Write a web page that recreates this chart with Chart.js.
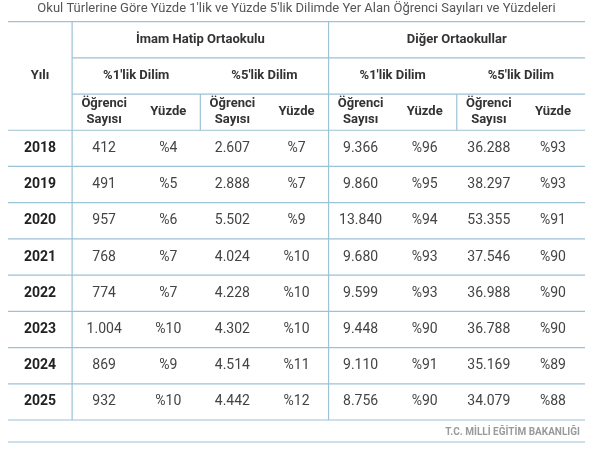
<!DOCTYPE html>
<html>
<head>
<meta charset="utf-8">
<script src="https://cdn.jsdelivr.net/npm/chart.js@4"></script>
<style>
  body { margin: 0; background: #fff; }
  #wrap { width: 607px; height: 454px; position: relative; }
</style>
</head>
<body>
<div id="wrap"><canvas id="tableChart"></canvas></div>
<script>
const title = 'Okul Türlerine Göre Yüzde 1\'lik ve Yüzde 5\'lik Dilimde Yer Alan Öğrenci Sayıları ve Yüzdeleri';
const source = 'T.C. MİLLİ EĞİTİM BAKANLIĞI';
const groups = ['İmam Hatip Ortaokulu', 'Diğer Ortaokullar'];
const slices = ['%1\'lik Dilim', '%5\'lik Dilim'];
const years = ['2018', '2019', '2020', '2021', '2022', '2023', '2024', '2025'];
const ihoCount1 = [412, 491, 957, 768, 774, 1004, 869, 932];
const ihoPct1 = [4, 5, 6, 7, 7, 10, 9, 10];
const ihoCount5 = [2607, 2888, 5502, 4024, 4228, 4302, 4514, 4442];
const ihoPct5 = [7, 7, 9, 10, 10, 10, 11, 12];
const digCount1 = [9366, 9860, 13840, 9680, 9599, 9448, 9110, 8756];
const digPct1 = [96, 95, 94, 93, 93, 90, 91, 90];
const digCount5 = [36288, 38297, 53355, 37546, 36988, 36788, 35169, 34079];
const digPct5 = [93, 93, 91, 90, 90, 90, 89, 88];

const cols = ['yil', 'c1', 'c2', 'c3', 'c4', 'c5', 'c6', 'c7', 'c8'];
const rows = ['h1', 'h2', 'h3', ...years];
const lineColor = '#9cc2d6';
const textColor = '#333';

const fmtNum = n => String(n).replace(/\B(?=(\d{3})+(?!\d))/g, '.');
const fmtPct = n => '%' + n;

// one point per data cell, text drawn at the point position
const cells = [];
years.forEach((y, i) => {
    const vals = [ihoCount1[i], ihoPct1[i], ihoCount5[i], ihoPct5[i], digCount1[i], digPct1[i], digCount5[i], digPct5[i]];
    cells.push({x: 'yil', y: y, text: y, bold: true});
    vals.forEach((v, j) => cells.push({x: cols[j + 1], y: y, text: j % 2 ? fmtPct(v) : fmtNum(v)}));
});

const tablePlugin = {
    id: 'tablePlugin',
    afterDatasetsDraw(chart) {
        const {ctx, scales: {x, y}, chartArea: a} = chart;
        const colW = x.getPixelForValue(1) - x.getPixelForValue(0);
        const rowH = y.getPixelForValue(1) - y.getPixelForValue(0);
        const colEdge = i => x.getPixelForValue(i) - colW / 2;
        const rowEdge = i => y.getPixelForValue(i) - rowH / 2;
        ctx.save();
        ctx.strokeStyle = lineColor;
        ctx.lineWidth = 1.2;
        const hl = (yy, x0, x1) => { ctx.beginPath(); ctx.moveTo(x0, yy); ctx.lineTo(x1, yy); ctx.stroke(); };
        const vl = (xx, y0, y1) => { ctx.beginPath(); ctx.moveTo(xx, y0); ctx.lineTo(xx, y1); ctx.stroke(); };
        hl(a.top, a.left, a.right);
        hl(rowEdge(1), colEdge(1), a.right);
        hl(rowEdge(2), colEdge(1), a.right);
        for (let r = 3; r <= rows.length; r++) hl(rowEdge(r), a.left, a.right);
        hl(a.bottom + 22, a.left, a.right);
        vl(colEdge(1), a.top, a.bottom);
        vl(colEdge(5), a.top, a.bottom);
        [3, 7].forEach(c => vl(colEdge(c), rowEdge(2), rowEdge(3)));

        ctx.textAlign = 'center';
        ctx.textBaseline = 'middle';
        ctx.fillStyle = textColor;
        ctx.font = 'bold 13px Roboto';
        ctx.fillText('Yılı', x.getPixelForValue(0), y.getPixelForValue(1));
        groups.forEach((g, i) => ctx.fillText(g, (colEdge(1 + i * 4) + colEdge(5 + i * 4)) / 2, y.getPixelForValue(0)));
        for (let k = 0; k < 4; k++) {
            const c = 1 + k * 2;
            ctx.fillText(slices[k % 2], (colEdge(c) + colEdge(c + 2)) / 2, y.getPixelForValue(1));
            const yy = y.getPixelForValue(2);
            ctx.fillText('Öğrenci', x.getPixelForValue(c), yy - 8);
            ctx.fillText('Sayısı', x.getPixelForValue(c), yy + 8);
            ctx.fillText('Yüzde', x.getPixelForValue(c + 1), yy);
        }

        chart.getDatasetMeta(0).data.forEach((el, i) => {
            const c = cells[i];
            ctx.font = (c.bold ? 'bold ' : '') + '14px Roboto';
            ctx.fillStyle = c.bold ? '#222' : '#444';
            ctx.fillText(c.text, el.x, el.y);
        });

        ctx.textAlign = 'right';
        ctx.font = 'bold 10px Roboto';
        ctx.fillStyle = '#9a9a9a';
        ctx.fillText(source, a.right - 5, a.bottom + 12);
        ctx.restore();
    }
};

new Chart(document.getElementById('tableChart'), {
    type: 'scatter',
    data: {
        datasets: [{
            data: cells.map(c => ({x: c.x, y: c.y})),
            pointRadius: 0,
            pointHoverRadius: 0
        }]
    },
    options: {
        responsive: true,
        maintainAspectRatio: false,
        animation: false,
        events: [],
        layout: {padding: {left: 8, right: 22, top: 0, bottom: 34}},
        scales: {
            x: {type: 'category', labels: cols, offset: true, display: false},
            y: {type: 'category', labels: rows, offset: true, display: false}
        },
        plugins: {
            legend: {display: false},
            tooltip: {enabled: false},
            title: {
                display: true,
                text: title,
                color: '#555',
                font: {family: 'Roboto', size: 13, weight: 'normal'},
                padding: {top: 1, bottom: 5}
            }
        }
    },
    plugins: [tablePlugin]
});
</script>
</body>
</html>
